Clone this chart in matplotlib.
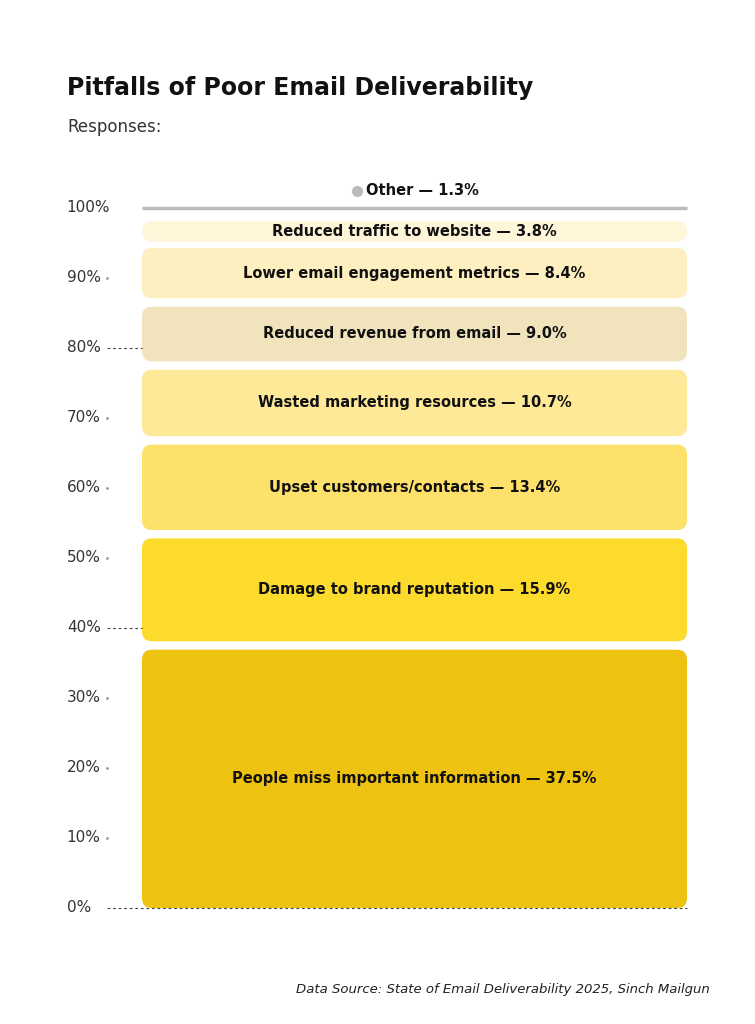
import matplotlib.pyplot as plt
from matplotlib.patches import FancyBboxPatch

plt.rcParams["font.family"] = ["DejaVu Sans"]

# Data
labels = ["People miss important information", "Damage to brand reputation",
          "Upset customers/contacts", "Wasted marketing resources",
          "Reduced revenue from email", "Lower email engagement metrics",
          "Reduced traffic to website"]
values = [37.5, 15.9, 13.4, 10.7, 9.0, 8.4, 3.8]
colors = ["#EEC210", "#FDDB2C", "#FEE16A", "#FEE999", "#F1E4BC", "#FEEFC0", "#FFF5D9"]
other_label = "Other"
other_value = 1.3
yticks = [0, 10, 20, 30, 40, 50, 60, 70, 80, 90, 100]

W, H = 755, 1024
fig = plt.figure(figsize=(W / 100, H / 100), dpi=100)
ax = fig.add_axes([142 / W, (H - 908) / H, (687 - 142) / W, 700 / H])
ax.set_xlim(0, 1)
ax.set_ylim(0, 100)
ax.axis("off")

gap = 0.6
cum = 0
for i, (lab, v, c) in enumerate(zip(labels, values, colors)):
    y0 = cum + (0 if i == 0 else gap)
    y1 = cum + v - gap
    if i == len(values) - 1:
        y0 -= 0.3
    box = FancyBboxPatch((0, y0), 1, y1 - y0, boxstyle="round,pad=0,rounding_size=0.018",
                         mutation_aspect=78, fc=c, ec="none", clip_on=False)
    ax.add_patch(box)
    ax.text(0.5, (y0 + y1) / 2, f"{lab} — {v}%", ha="center", va="center",
            fontsize=10.5, fontweight="bold", color="#111111")
    cum += v

# Other
ax.plot([0, 1], [100, 100], color="#BBBBBB", lw=2.5, clip_on=False, solid_capstyle="butt")
ax.text(0.515, 102.5, f"{other_label} — {other_value}%", ha="center", va="center",
        fontsize=10.5, fontweight="bold", color="#111111")
ax.plot([0.395], [102.5], "o", color="#BBBBBB", ms=7, clip_on=False)

# y axis labels and ticks
for t in yticks:
    ax.text(-0.138, t, f"{t}%", ha="left", va="center", fontsize=11, color="#333333")
    if t == 0:
        ax.plot([-0.065, 1], [0, 0], ls=(0, (2.5, 2.5)), color="#444444", lw=0.8, clip_on=False)
    elif t in (40, 80):
        ax.plot([-0.065, 0], [t, t], ls=(0, (2.5, 2.5)), color="#444444", lw=0.8, clip_on=False)
    elif t != 100:
        ax.plot([-0.065], [t], "o", color="#999999", ms=1, clip_on=False)

fig.text(67 / W, 1 - 88 / H, "Pitfalls of Poor Email Deliverability", fontsize=17,
         fontweight="bold", va="center", color="#111111")
fig.text(67 / W, 1 - 127 / H, "Responses:", fontsize=12, va="center", color="#333333")
fig.text(710 / W, 1 - 990 / H, "Data Source: State of Email Deliverability 2025, Sinch Mailgun",
         fontsize=9.5, style="italic", ha="right", va="center", color="#222222")

fig.savefig("out.png", dpi=100)
